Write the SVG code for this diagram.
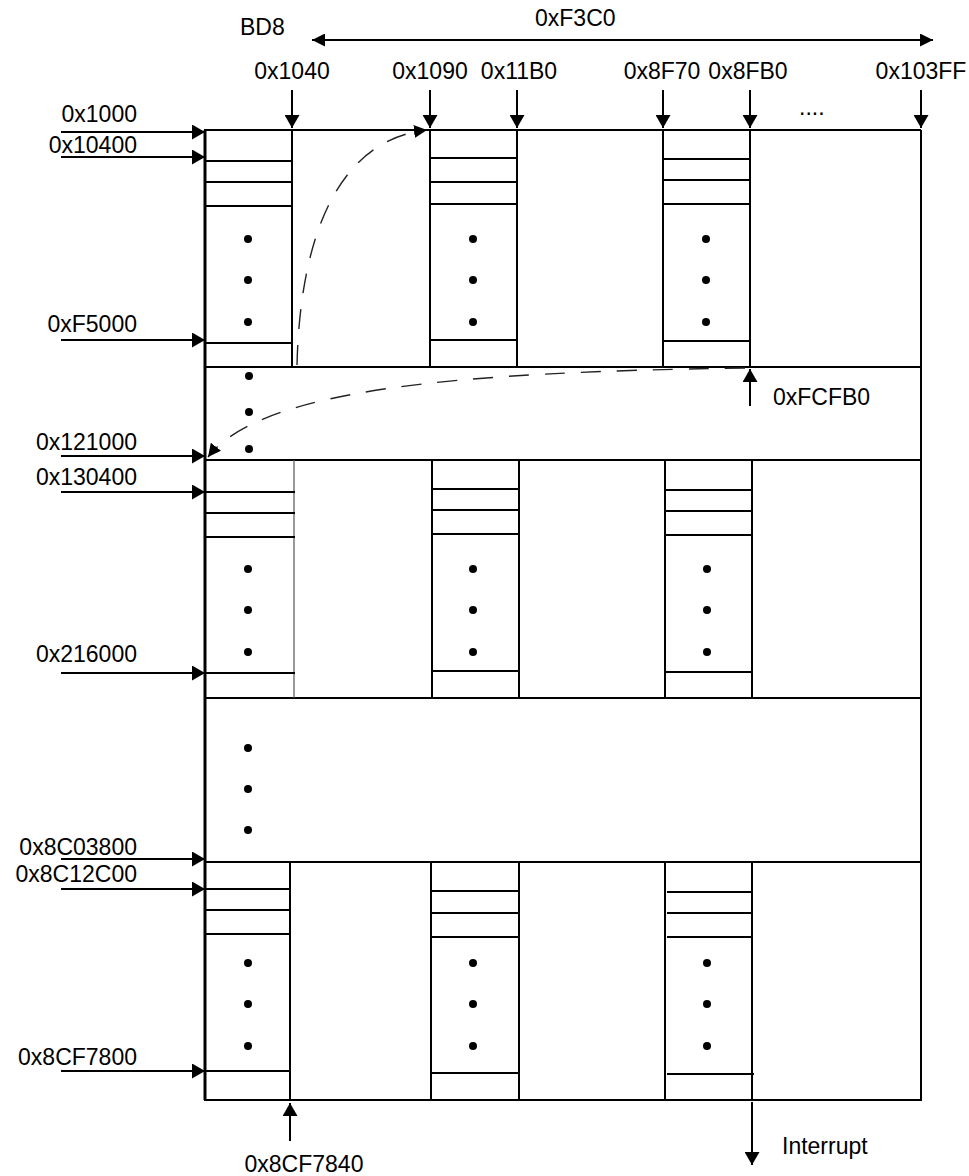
<svg xmlns="http://www.w3.org/2000/svg" width="969" height="1176" viewBox="0 0 969 1176">
<style>
text{font-family:"Liberation Sans",Arial,sans-serif;font-size:23px;fill:#000}
.l{stroke:#000;stroke-width:2;fill:none}
.thk{stroke:#000;stroke-width:3;fill:none}
.thin{stroke:#555;stroke-width:1.2;fill:none}
.a{stroke:#000;stroke-width:2;fill:none;marker-end:url(#ah)}
.d{stroke:#222;stroke-width:1.4;fill:none;stroke-dasharray:20 16}
.dot{fill:#000}
.end{text-anchor:end}
.mid{text-anchor:middle}
</style>
<defs>
<marker id="ah" markerUnits="userSpaceOnUse" markerWidth="14" markerHeight="15" refX="13" refY="7.5" orient="auto">
<path d="M0,0 L13,7.5 L0,15 z" fill="#000"/>
</marker>
<marker id="ahs" markerUnits="userSpaceOnUse" markerWidth="14" markerHeight="13" refX="13" refY="6.5" orient="auto-start-reverse">
<path d="M0,0 L13,6.5 L0,13 z" fill="#000"/>
</marker>
</defs>

<g id="frame">
<line class="thk" x1="205" y1="130" x2="205" y2="1100"/>
<line class="l" x1="921" y1="130" x2="921" y2="1100"/>
<line class="l" x1="204" y1="130" x2="921" y2="130"/>
<line class="l" x1="204" y1="367" x2="921" y2="367"/>
<line class="l" x1="204" y1="460" x2="921" y2="460"/>
<line class="l" x1="204" y1="698" x2="921" y2="698"/>
<line class="l" x1="204" y1="862" x2="921" y2="862"/>
<line class="l" x1="204" y1="1100" x2="922" y2="1100"/>
</g>

<g id="row1">
<line class="l" x1="292" y1="130" x2="292" y2="367"/>
<line class="l" x1="430" y1="130" x2="430" y2="367"/>
<line class="l" x1="517" y1="130" x2="517" y2="367"/>
<line class="l" x1="663" y1="130" x2="663" y2="367"/>
<line class="l" x1="750" y1="130" x2="750" y2="367"/>
<path class="l" d="M205,161H292M205,182H292M205,206H292M205,343H292"/>
<path class="l" d="M430,158H517M430,182H517M430,204H517M430,340H517"/>
<path class="l" d="M663,159H750M663,180H750M663,204H750M663,341H750"/>
<circle class="dot" cx="248" cy="239" r="4"/><circle class="dot" cx="248" cy="280" r="4"/><circle class="dot" cx="248" cy="322" r="4"/>
<circle class="dot" cx="473" cy="239" r="4"/><circle class="dot" cx="473" cy="280" r="4"/><circle class="dot" cx="473" cy="322" r="4"/>
<circle class="dot" cx="706" cy="239" r="4"/><circle class="dot" cx="706" cy="280" r="4"/><circle class="dot" cx="706" cy="322" r="4"/>
</g>

<g id="row2">
<circle class="dot" cx="249" cy="376" r="4"/><circle class="dot" cx="249" cy="412" r="4"/><circle class="dot" cx="249" cy="449" r="4"/>
</g>

<g id="row3">
<line class="thin" x1="294" y1="460" x2="294" y2="698"/>
<line class="l" x1="432" y1="460" x2="432" y2="698"/>
<line class="l" x1="519" y1="460" x2="519" y2="698"/>
<line class="l" x1="665" y1="460" x2="665" y2="698"/>
<line class="l" x1="752" y1="460" x2="752" y2="698"/>
<path class="l" d="M205,492H295M205,513H295M205,537H295M205,673H295"/>
<path class="l" d="M432,489H519M432,510H519M432,534H519M432,671H519"/>
<path class="l" d="M665,490H752M665,511H752M665,535H752M665,672H752"/>
<circle class="dot" cx="248" cy="569" r="4"/><circle class="dot" cx="248" cy="610" r="4"/><circle class="dot" cx="248" cy="652" r="4"/>
<circle class="dot" cx="473" cy="569" r="4"/><circle class="dot" cx="473" cy="610" r="4"/><circle class="dot" cx="473" cy="652" r="4"/>
<circle class="dot" cx="707" cy="569" r="4"/><circle class="dot" cx="707" cy="610" r="4"/><circle class="dot" cx="707" cy="652" r="4"/>
</g>

<g id="row4">
<circle class="dot" cx="248" cy="748" r="4"/><circle class="dot" cx="248" cy="789" r="4"/><circle class="dot" cx="248" cy="830" r="4"/>
</g>

<g id="row5">
<line class="l" x1="290" y1="862" x2="290" y2="1100"/>
<line class="l" x1="431" y1="862" x2="431" y2="1100"/>
<line class="l" x1="519" y1="862" x2="519" y2="1100"/>
<line class="l" x1="665" y1="862" x2="665" y2="1100"/>
<line class="l" x1="752" y1="862" x2="752" y2="1100"/>
<path class="l" d="M205,889H290M205,910H290M205,934H290M205,1071H290"/>
<path class="l" d="M431,891H519M431,913H519M431,937H519M431,1073H519"/>
<path class="l" d="M667,892H752M667,913H752M667,937H752M667,1074H754"/>
<circle class="dot" cx="248" cy="963" r="4"/><circle class="dot" cx="248" cy="1004" r="4"/><circle class="dot" cx="248" cy="1046" r="4"/>
<circle class="dot" cx="473" cy="963" r="4"/><circle class="dot" cx="473" cy="1004" r="4"/><circle class="dot" cx="473" cy="1046" r="4"/>
<circle class="dot" cx="707" cy="963" r="4"/><circle class="dot" cx="707" cy="1004" r="4"/><circle class="dot" cx="707" cy="1046" r="4"/>
</g>

<g id="connectors">
<line class="l" x1="312" y1="40" x2="933" y2="40" marker-start="url(#ahs)" marker-end="url(#ahs)"/>
<line class="a" x1="292" y1="90" x2="292" y2="128"/>
<line class="a" x1="430" y1="90" x2="430" y2="128"/>
<line class="a" x1="517" y1="90" x2="517" y2="128"/>
<line class="a" x1="663" y1="90" x2="663" y2="128"/>
<line class="a" x1="750" y1="90" x2="750" y2="128"/>
<line class="a" x1="921" y1="90" x2="921" y2="128"/>
<line class="a" x1="61" y1="132" x2="205" y2="132"/>
<line class="a" x1="61" y1="157" x2="205" y2="157"/>
<line class="a" x1="61" y1="340" x2="205" y2="340"/>
<line class="a" x1="61" y1="456" x2="205" y2="456"/>
<line class="a" x1="61" y1="492" x2="205" y2="492"/>
<line class="a" x1="61" y1="673" x2="205" y2="673"/>
<line class="a" x1="61" y1="859" x2="205" y2="859"/>
<line class="a" x1="61" y1="889" x2="205" y2="889"/>
<line class="a" x1="61" y1="1071" x2="205" y2="1071"/>
<line class="a" x1="750" y1="406" x2="750" y2="369"/>
<line class="a" x1="290" y1="1141" x2="290" y2="1103"/>
<line class="a" x1="752" y1="1102" x2="752" y2="1165"/>
<path class="d" d="M297,365 C300,240 336,140 427,130" marker-end="url(#ahs)"/>
<path class="d" d="M745,368 C450,372 260,390 208,457" marker-end="url(#ahs)"/>
</g>

<g id="labels">
<text x="240" y="35">BD8</text>
<text x="535" y="26">0xF3C0</text>
<text class="mid" x="292" y="79">0x1040</text>
<text class="mid" x="430" y="79">0x1090</text>
<text class="mid" x="519" y="79">0x11B0</text>
<text class="mid" x="662" y="79">0x8F70</text>
<text class="mid" x="748" y="79">0x8FB0</text>
<text class="mid" x="921" y="79">0x103FF</text>
<text x="799" y="115">....</text>
<text class="end" x="137" y="122">0x1000</text>
<text class="end" x="137" y="153">0x10400</text>
<text class="end" x="137" y="332">0xF5000</text>
<text class="end" x="137" y="450">0x121000</text>
<text class="end" x="137" y="485">0x130400</text>
<text class="end" x="137" y="662">0x216000</text>
<text class="end" x="137" y="855">0x8C03800</text>
<text class="end" x="137" y="882">0x8C12C00</text>
<text class="end" x="137" y="1065">0x8CF7800</text>
<text x="773" y="405">0xFCFB0</text>
<text class="mid" x="304" y="1172">0x8CF7840</text>
<text x="782" y="1154">Interrupt</text>
</g>
</svg>
